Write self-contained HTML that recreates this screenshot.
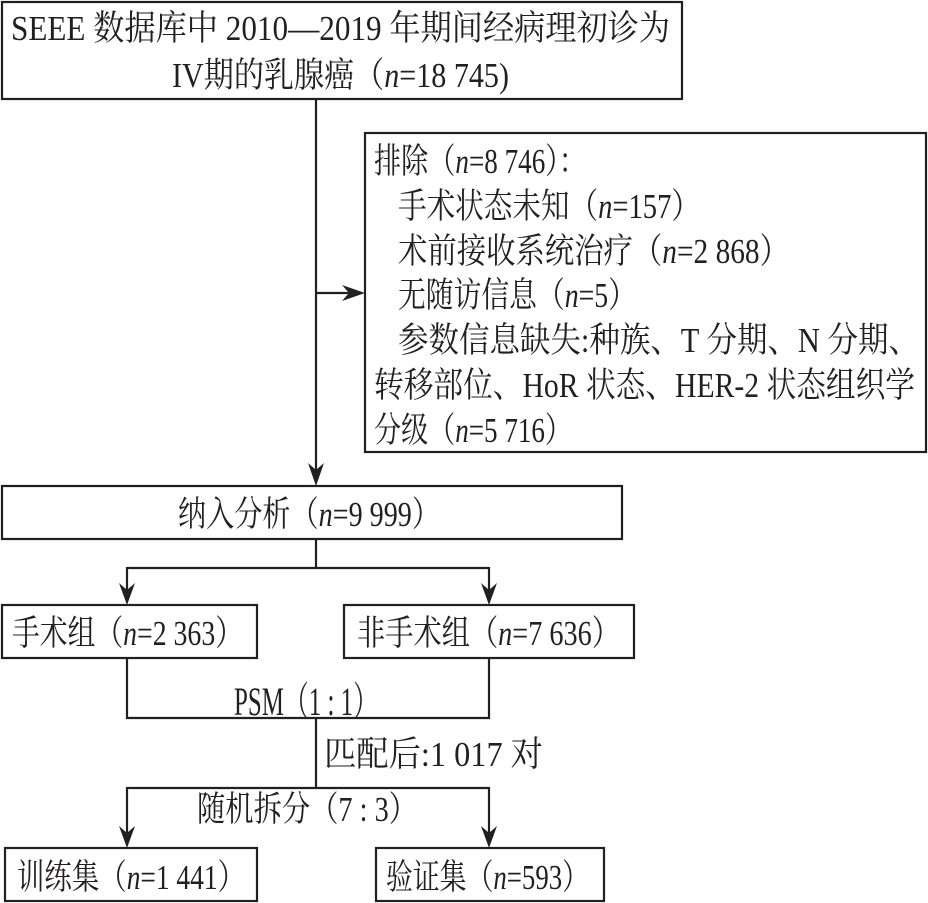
<!DOCTYPE html>
<html>
<head>
<meta charset="utf-8">
<style>
  html,body{margin:0;padding:0;background:#fff;}
  svg{display:block;}
  text{font-family:"Liberation Serif","Noto Serif CJK SC",serif;font-size:35px;fill:#231f20;}
  .it{font-style:italic;}
</style>
</head>
<body>
<svg width="928" height="903" viewBox="0 0 928 903" xmlns="http://www.w3.org/2000/svg">
  <g fill="none" stroke="#231f20" stroke-width="2.2">
    <!-- boxes -->
    <rect x="2" y="2" width="680" height="97"/>
    <rect x="365" y="133" width="561" height="319"/>
    <rect x="2" y="486" width="620" height="53"/>
    <rect x="2" y="605" width="255" height="53"/>
    <rect x="344" y="605" width="290" height="53"/>
    <rect x="5" y="848" width="252" height="53"/>
    <rect x="376" y="848" width="228" height="53"/>
    <!-- connectors -->
    <line x1="316" y1="99" x2="316" y2="475"/>
    <line x1="316" y1="293" x2="354" y2="293"/>
    <line x1="316" y1="539" x2="316" y2="568"/>
    <line x1="127" y1="568" x2="489" y2="568"/>
    <line x1="127" y1="567" x2="127" y2="595"/>
    <line x1="489" y1="567" x2="489" y2="595"/>
    <polyline points="127,658 127,718 489,718 489,658"/>
    <line x1="316" y1="718" x2="316" y2="788"/>
    <line x1="127" y1="788" x2="489" y2="788"/>
    <line x1="127" y1="787" x2="127" y2="838"/>
    <line x1="489" y1="787" x2="489" y2="838"/>
  </g>
  <g fill="#231f20" stroke="none">
    <!-- arrowheads -->
    <path d="M316 486 L308 463 L316 470 L324 463 Z"/>
    <path d="M365 293 L342 285 L349 293 L342 301 Z"/>
    <path d="M127 605 L119 583 L127 590 L135 583 Z"/>
    <path d="M489 605 L481 583 L489 590 L497 583 Z"/>
    <path d="M127 848 L119 826 L127 833 L135 826 Z"/>
    <path d="M489 848 L481 826 L489 833 L497 826 Z"/>
  </g>

  <!-- top box -->
  <text x="11" y="40" textLength="659" lengthAdjust="spacingAndGlyphs">SEEE 数据库中 2010—2019 年期间经病理初诊为</text>
  <text x="172" y="87" textLength="337" lengthAdjust="spacingAndGlyphs">IV期的乳腺癌（<tspan class="it">n</tspan>=18 745)</text>

  <!-- exclusion box -->
  <text x="374" y="173" textLength="212" lengthAdjust="spacingAndGlyphs">排除（<tspan class="it">n</tspan>=8 746）：</text>
  <text x="398" y="218" textLength="302" lengthAdjust="spacingAndGlyphs">手术状态未知（<tspan class="it">n</tspan>=157）</text>
  <text x="398" y="263" textLength="391" lengthAdjust="spacingAndGlyphs">术前接收系统治疗（<tspan class="it">n</tspan>=2 868）</text>
  <text x="398" y="307" textLength="238" lengthAdjust="spacingAndGlyphs">无随访信息（<tspan class="it">n</tspan>=5）</text>
  <text x="398" y="352" textLength="521" lengthAdjust="spacingAndGlyphs">参数信息缺失:种族、T 分期、N 分期、</text>
  <text x="374" y="397" textLength="541" lengthAdjust="spacingAndGlyphs">转移部位、HoR 状态、HER-2 状态组织学</text>
  <text x="374" y="442" textLength="198" lengthAdjust="spacingAndGlyphs">分级（<tspan class="it">n</tspan>=5 716）</text>

  <!-- included -->
  <text x="178" y="526" textLength="262" lengthAdjust="spacingAndGlyphs">纳入分析（<tspan class="it">n</tspan>=9 999）</text>

  <!-- groups -->
  <text x="12" y="645" textLength="231" lengthAdjust="spacingAndGlyphs">手术组（<tspan class="it">n</tspan>=2 363）</text>
  <text x="357" y="645" textLength="263" lengthAdjust="spacingAndGlyphs">非手术组（<tspan class="it">n</tspan>=7 636）</text>

  <!-- PSM -->
  <text x="234" y="715" textLength="144" lengthAdjust="spacingAndGlyphs" style="font-size:40px">PSM（1 : 1）</text>
  <text x="324" y="766" textLength="219" lengthAdjust="spacingAndGlyphs">匹配后:1 017 对</text>
  <text x="197" y="821" textLength="220" lengthAdjust="spacingAndGlyphs">随机拆分（7 : 3）</text>

  <!-- bottom boxes -->
  <text x="17" y="889" textLength="228" lengthAdjust="spacingAndGlyphs">训练集（<tspan class="it">n</tspan>=1 441）</text>
  <text x="386" y="889" textLength="203" lengthAdjust="spacingAndGlyphs">验证集（<tspan class="it">n</tspan>=593）</text>
</svg>
</body>
</html>
